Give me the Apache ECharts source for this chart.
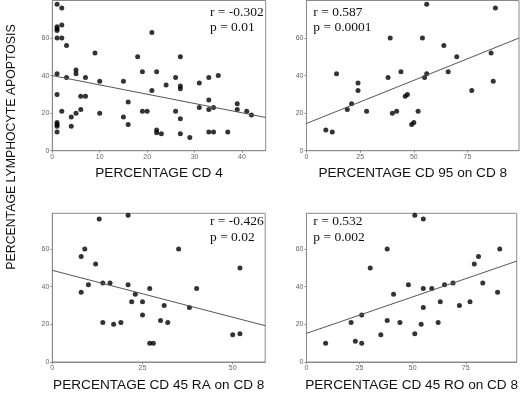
<!DOCTYPE html>
<html>
<head>
<meta charset="utf-8">
<script src="https://cdn.jsdelivr.net/npm/echarts@6/dist/echarts.min.js"></script>
<style>
  html, body { margin: 0; padding: 0; background: #fff; }
  #chart { width: 520px; height: 394px; }
</style>
</head>
<body>
<div id="chart"></div>
<script>
// values: [x %, apoptosis %]
const cd4 = [[1,78],[2,76],[1,66],[1,65],[1,64],[2,67],[1,60],[2,60],[3,56],[9,52],[18,50],[27,50],[21,63],
  [1,41],[3,39],[5,43],[5,41],[7,39],[10,37],[15,37],[19,42],[22,42],[21,32],[24,35],[26,39],[27,34.5],[27,33],
  [31,36],[33,39],[35,40],[1,30],[6,29],[7,29],[6,22],[2,21],[5,20],[4,18],[4,13],[10,20],[16,26],[15,18],[16,14],
  [19,21],[20,21],[26,21],[27,17],[31,23],[33,22],[33,27],[34,23],[39,25],[39,22],[41,21],[42,19],
  [1,15],[1,14],[1,13],[1,10],[22,11],[22,9.5],[23,9],[27,9],[29,7],[33,10],[34,10],[37,10]];
const cd95 = [[56,78],[88,76],[39,60],[54,60],[64,56],[86,52],[70,50],[14,41],[44,42],[66,42],[56,41],[38,39],
  [55,39],[87,37],[24,36],[24,32],[77,32],[21,25],[19,22],[28,21],[46,29],[47,30],[40,20],[42,21],[52,21],
  [49,14],[50,15],[9,11],[12,10]];
const cd45ra = [[13,76],[21,78],[8,56],[9,60],[12,52],[35,60],[52,50],[8,37],[10,41],[14,42],[16,42],[21,41],
  [27,39],[40,39],[23,36],[22,32],[25,32],[31,30],[38,29],[25,25],[30,22],[14,21],[17,20],[19,21],[32,21],
  [50,14.5],[52,15],[27,10],[28,10]];
const cd45ro = [[51,78],[55,76],[38,60],[91,60],[81,56],[79,52],[30,50],[83,42],[69,42],[65,41],[48,41],[55,39],
  [59,39],[90,37],[41,36],[63,32],[77,32],[72,30],[55,29],[38,22],[44,21],[62,21],[54,20],[21,21],[26,25],
  [35,14.5],[51,15],[9,10],[23,11],[26,10]];

// regression lines (end points as drawn)
const fit4 = [[0,40],[45,17.7]];
const fit95 = [[0,14.5],[99,60]];
const fit45ra = [[0,48.7],[59,19.3]];
const fit45ro = [[0,15.2],[99,53.6]];

const xTitles = ['PERCENTAGE CD 4', 'PERCENTAGE CD 95 on CD 8', 'PERCENTAGE CD 45 RA on CD 8', 'PERCENTAGE CD 45 RO on CD 8'];
const rLabels = ['r = -0.302', 'r = 0.587', 'r = -0.426', 'r = 0.532'];
const pLabels = ['p = 0.01', 'p = 0.0001', 'p = 0.02', 'p = 0.002'];
const xMax = [45, 99, 59, 99];
const xStep = [10, 25, 25, 25];
const yMax = [80, 80, 79, 79];

const points = [cd4, cd95, cd45ra, cd45ro];
const fits = [fit4, fit95, fit45ra, fit45ro];

const grids = [
  { left: 52.3, top: 0.5, width: 213.4, height: 150.2 },
  { left: 306.5, top: 0.5, width: 212.5, height: 150.2 },
  { left: 52.3, top: 213.3, width: 212.9, height: 148.7 },
  { left: 306.5, top: 213.3, width: 212.5, height: 148.7 }
];
const textPos = [[210, 12.7, 27.3], [313.3, 12.7, 27.3], [210, 221.7, 237.7], [313.3, 221.7, 237.7]];

const boxColor = '#8a8a8a';
const sans = 'Liberation Sans, Arial, sans-serif';
const serif = 'Liberation Serif, Times New Roman, serif';

function axisBase() {
  return {
    axisLine: { show: true, onZero: false, lineStyle: { color: boxColor, width: 1 } },
    axisTick: { show: true, length: 2, lineStyle: { color: boxColor } },
    splitLine: { show: false },
    axisLabel: { fontSize: 7, color: '#666', fontFamily: sans, margin: 3, showMaxLabel: false }
  };
}

const chart = echarts.init(document.getElementById('chart'));

const option = {
  animation: false,
  backgroundColor: '#fff',
  grid: grids.map(g => Object.assign({ show: true, borderColor: boxColor, borderWidth: 1 }, g)),
  xAxis: grids.map((g, i) => Object.assign(axisBase(), {
    type: 'value', gridIndex: i, min: 0, max: xMax[i], interval: xStep[i],
    name: xTitles[i], nameLocation: 'middle', nameGap: 16,
    nameTextStyle: { fontSize: 13.6, color: '#111', fontFamily: sans }
  })),
  yAxis: grids.map((g, i) => Object.assign(axisBase(), {
    type: 'value', gridIndex: i, min: 0, max: yMax[i], interval: 20
  })),
  series: [].concat(
    points.map((d, i) => ({
      type: 'scatter', xAxisIndex: i, yAxisIndex: i, data: d,
      symbol: 'circle', symbolSize: 5, itemStyle: { color: '#000' }, silent: true
    })),
    fits.map((d, i) => ({
      type: 'line', xAxisIndex: i, yAxisIndex: i, data: d,
      showSymbol: false, lineStyle: { color: '#555', width: 1 }, silent: true
    }))
  ),
  graphic: [].concat(
    [{
      type: 'text', x: 12, y: 147, rotation: Math.PI / 2,
      style: { text: 'PERCENTAGE LYMPHOCYTE APOPTOSIS', font: '12.3px ' + sans, fill: '#111',
        textAlign: 'center', textVerticalAlign: 'middle' }
    }],
    textPos.map((p, i) => ({
      type: 'text', x: p[0], y: p[1],
      style: { text: rLabels[i], font: '13.5px ' + serif, fill: '#111', textAlign: 'left', textVerticalAlign: 'middle' }
    })),
    textPos.map((p, i) => ({
      type: 'text', x: p[0], y: p[2],
      style: { text: pLabels[i], font: '13.5px ' + serif, fill: '#111', textAlign: 'left', textVerticalAlign: 'middle' }
    }))
  )
};

chart.setOption(option);
</script>
</body>
</html>
